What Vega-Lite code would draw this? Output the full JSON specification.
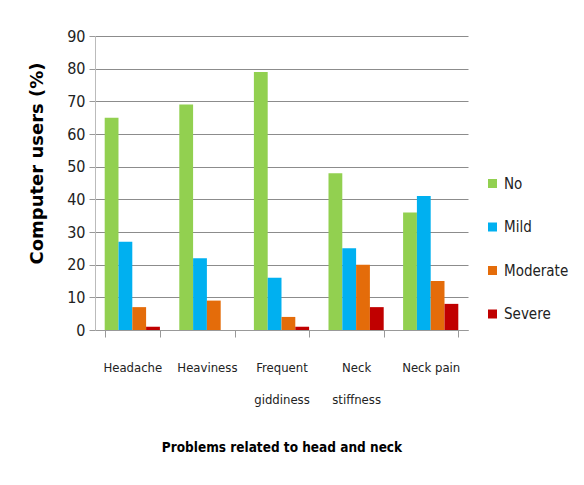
{
  "$schema": "https://vega.github.io/schema/vega-lite/v6.json",
  "width": 373,
  "height": 294,
  "autosize": {"type": "none"},
  "padding": {"left": 95, "top": 36, "right": 116, "bottom": 155},
  "background": "white",
  "config": {
    "view": {"stroke": null},
    "font": "DejaVu Sans Condensed, DejaVu Sans, sans-serif"
  },
  "data": {
    "values": [
      {"problem": "Headache", "severity": "No", "value": 65},
      {"problem": "Headache", "severity": "Mild", "value": 27},
      {"problem": "Headache", "severity": "Moderate", "value": 7},
      {"problem": "Headache", "severity": "Severe", "value": 1},
      {"problem": "Heaviness", "severity": "No", "value": 69},
      {"problem": "Heaviness", "severity": "Mild", "value": 22},
      {"problem": "Heaviness", "severity": "Moderate", "value": 9},
      {"problem": "Heaviness", "severity": "Severe", "value": 0},
      {"problem": "Frequent giddiness", "severity": "No", "value": 79},
      {"problem": "Frequent giddiness", "severity": "Mild", "value": 16},
      {"problem": "Frequent giddiness", "severity": "Moderate", "value": 4},
      {"problem": "Frequent giddiness", "severity": "Severe", "value": 1},
      {"problem": "Neck stiffness", "severity": "No", "value": 48},
      {"problem": "Neck stiffness", "severity": "Mild", "value": 25},
      {"problem": "Neck stiffness", "severity": "Moderate", "value": 20},
      {"problem": "Neck stiffness", "severity": "Severe", "value": 7},
      {"problem": "Neck pain", "severity": "No", "value": 36},
      {"problem": "Neck pain", "severity": "Mild", "value": 41},
      {"problem": "Neck pain", "severity": "Moderate", "value": 15},
      {"problem": "Neck pain", "severity": "Severe", "value": 8}
    ]
  },
  "mark": {"type": "bar"},
  "encoding": {
    "x": {
      "field": "problem",
      "type": "nominal",
      "sort": ["Headache", "Heaviness", "Frequent giddiness", "Neck stiffness", "Neck pain"],
      "scale": {"paddingInner": 0.26, "paddingOuter": 0.13},
      "axis": {
        "title": "Problems related to head and neck",
        "titleFont": "DejaVu Sans Condensed, DejaVu Sans, sans-serif",
        "titleFontSize": 13.5,
        "titleFontWeight": "bold",
        "titleColor": "#000000",
        "titlePadding": 34,
        "labelAngle": 0,
        "labelFontSize": 13,
        "labelColor": "#222222",
        "labelPadding": 24,
        "labelExpr": "datum.label == 'Frequent giddiness' ? ['Frequent', 'giddiness'] : datum.label == 'Neck stiffness' ? ['Neck', 'stiffness'] : datum.label",
        "labelLineHeight": 32,
        "tickBand": "extent",
        "tickSize": 7,
        "tickColor": "#999999",
        "domainColor": "#999999",
        "grid": false
      }
    },
    "xOffset": {
      "field": "severity",
      "type": "nominal",
      "sort": ["No", "Mild", "Moderate", "Severe"],
      "scale": {"paddingInner": 0, "paddingOuter": 0}
    },
    "y": {
      "field": "value",
      "type": "quantitative",
      "scale": {"domain": [0, 90]},
      "axis": {
        "title": "Computer users (%)",
        "titleFont": "DejaVu Sans, sans-serif",
        "titleFontSize": 18,
        "titleFontWeight": "bold",
        "titleColor": "#000000",
        "titleX": -49,
        "titleY": 127,
        "values": [0, 10, 20, 30, 40, 50, 60, 70, 80, 90],
        "labelFontSize": 16,
        "labelColor": "#222222",
        "labelPadding": 4,
        "tickSize": 6,
        "tickColor": "#999999",
        "domainColor": "#bbbbbb",
        "gridColor": "#8c8c8c",
        "gridWidth": 1
      }
    },
    "color": {
      "field": "severity",
      "type": "nominal",
      "sort": ["No", "Mild", "Moderate", "Severe"],
      "scale": {
        "domain": ["No", "Mild", "Moderate", "Severe"],
        "range": ["#92D050", "#00B0F0", "#E46C0A", "#C00000"]
      },
      "legend": {
        "title": null,
        "orient": "none",
        "legendX": 390,
        "legendY": 140,
        "symbolType": "square",
        "symbolSize": 81,
        "symbolStrokeWidth": 0,
        "labelFontSize": 15,
        "labelColor": "#222222",
        "labelOffset": 4,
        "rowPadding": 27.5
      }
    }
  }
}
